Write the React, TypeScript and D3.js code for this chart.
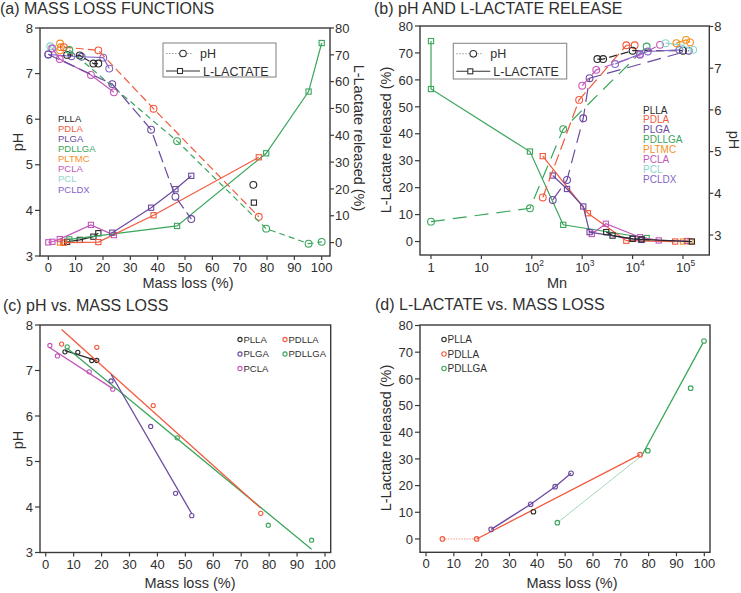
import React from "react";
import * as d3 from "d3";

type P = [number, number];
const FONT = "'Liberation Sans', Arial, Helvetica, sans-serif";
const TXT = "#2f2f2f";
const FRAME = "#3a3a3a";

// ---------- shared ----------
const materials = ["PLLA", "PDLA", "PLGA", "PDLLGA", "PLTMC", "PCLA", "PCL", "PCLDX"];
const colors: Record<string, string> = {
  PLLA: "#2a2a2a",
  PDLA: "#f15a3e",
  PDLLA: "#f15a3e",
  PLGA: "#6b4a9f",
  PDLLGA: "#3aa65b",
  PLTMC: "#f7901e",
  PCLA: "#c357b9",
  PCL: "#8ed6cd",
  PCLDX: "#8466c9",
};
const massTicks = [0, 10, 20, 30, 40, 50, 60, 70, 80, 90, 100];
const phTicks = [3, 4, 5, 6, 7, 8];
const lacTicks = [0, 10, 20, 30, 40, 50, 60, 70, 80];
const mnTicks = [1, 10, 100, 1000, 10000, 100000];

// ---------- (a) mass loss functions: pH (mass loss %, pH) ----------
const aPH_PLLA: P[] = [[6.9, 7.41], [11.5, 7.4], [16.5, 7.22], [18.3, 7.22]];
const aPH_PLLA_extra: P[] = [[75, 4.56]];
const aPH_PDLA: P[] = [[5.7, 7.58], [18.3, 7.51], [38.5, 6.23], [77, 3.86]];
const aPH_PLGA: P[] = [[0, 7.42], [23.4, 6.77], [37.6, 5.77], [46.5, 4.3], [52.3, 3.81]];
const aPH_PDLLGA: P[] = [[7.7, 7.52], [47.1, 5.52], [79.7, 3.6], [95.2, 3.27], [100, 3.31]];
const aPH_PLTMC: P[] = [[4.3, 7.66], [4.6, 7.58], [4.3, 7.51]];
const aPH_PCLA: P[] = [[1.5, 7.55], [4.2, 7.32], [15.6, 6.97], [24.0, 6.59]];
const aPH_PCL: P[] = [[0.7, 7.6], [1.1, 7.55]];
const aPH_PCLDX: P[] = [[0, 7.42], [8.5, 7.38], [12.2, 7.37], [20.1, 7.35], [22.3, 7.11]];

// ---------- (a) L-lactate released (mass loss %, %) ----------
const aLA_PLLA: P[] = [[6.9, 0.3], [11.5, 1.0], [16.5, 2.2], [18.3, 3.5]];
const aLA_PLLA_extra: P[] = [[75.2, 14.9]];
const aLA_PDLA: P[] = [[5.7, 0], [18.3, 0.2], [38.5, 10.2], [77, 31.8]];
const aLA_PLGA: P[] = [[23.4, 3.7], [37.6, 13.0], [46.5, 19.9], [52.3, 24.9]];
const aLA_PDLLGA: P[] = [[7.7, 1.2], [47.1, 6.2], [79.7, 33.3], [95.2, 56.3], [100, 74.4]];
const aLA_PLTMC: P[] = [[4.3, 0], [5.4, 0]];
const aLA_PCLA: P[] = [[0, 0.1], [1.5, 0.3], [4.2, 1.3], [15.6, 6.6], [24.0, 2.8]];

// ---------- (b) vs Mn: pH (Mn, pH) ----------
const bPH_PLLA: P[] = [[2000, 7.22], [2600, 7.22], [10000, 7.42], [100000, 7.42]];
const bPH_PDLA: P[] = [[165, 3.9], [870, 6.24], [7500, 7.55], [11000, 7.55]];
const bPH_PLGA: P[] = [[260, 3.84], [500, 4.32], [1050, 5.8], [1400, 6.76], [130000, 7.42]];
const bPH_PDLLGA: P[] = [[1, 3.32], [92, 3.64], [420, 5.54], [19000, 7.52]];
const bPH_PLTMC: P[] = [[74000, 7.6], [115000, 7.68], [138000, 7.62]];
const bPH_PCLA: P[] = [[1000, 6.58], [1900, 6.96], [14000, 7.32], [35000, 7.56]];
const bPH_PCL: P[] = [[45000, 7.6], [90000, 7.56], [160000, 7.44]];
const bPH_PCLDX: P[] = [[4500, 7.1], [14000, 7.34], [20000, 7.4], [85000, 7.44]];

// ---------- (b) L-lactate (Mn, %) ----------
const bLA_PLLA: P[] = [[3000, 3.5], [4000, 2.2], [10000, 1.0], [15000, 0.8], [150000, 0]];
const bLA_PDLA: P[] = [[165, 31.7], [1300, 10.5], [7500, 0.3], [70000, 0]];
const bLA_PLGA: P[] = [[260, 24.5], [500, 19.5], [1050, 13.0], [1400, 3.5], [10000, 1.0], [15000, 0.6]];
const bLA_PDLLGA: P[] = [[1, 74.4], [1, 56.6], [92, 33.4], [420, 6.2], [19000, 1.3]];
const bLA_PLTMC: P[] = [[100000, 0], [140000, 0]];
const bLA_PCLA: P[] = [[1550, 2.8], [2950, 6.6], [14000, 1.6], [33000, 0.4], [120000, 0.2]];

// ---------- (c) pH vs mass loss ----------
const cPLLA: P[] = [[6.9, 7.41], [11.5, 7.4], [16.5, 7.22], [18.3, 7.22]];
const cPDLLA: P[] = [[5.7, 7.58], [18.3, 7.51], [38.5, 6.23], [77.0, 3.86]];
const cPLGA: P[] = [[23.4, 6.77], [37.6, 5.77], [46.5, 4.3], [52.3, 3.81]];
const cPDLLGA: P[] = [[7.7, 7.52], [47.1, 5.52], [79.7, 3.6], [95.2, 3.27]];
const cPCLA: P[] = [[1.5, 7.55], [4.2, 7.32], [15.6, 6.97], [24.0, 6.59]];
const cLegend = [["PLLA", "PLLA"], ["PDLLA", "PDLA"], ["PLGA", "PLGA"], ["PDLLGA", "PDLLGA"], ["PCLA", "PCLA"]];

// ---------- (d) L-lactate vs mass loss ----------
const dPLLA: P[] = [[38.6, 10.2]];
const dPDLLA: P[] = [[5.9, 0], [18.2, 0], [76.9, 31.6]];
const dPLGA: P[] = [[23.4, 3.6], [37.6, 13.0], [46.4, 19.6], [52.1, 24.6]];
const dPDLLGA: P[] = [[47.2, 6.1], [79.7, 33.1], [95.1, 56.5], [99.9, 74.2]];
const dTrendPDLLGA_low: P[] = [[47.2, 6.1], [77.5, 31.2]];
const dTrendPDLLGA_high: P[] = [[77.5, 31.2], [99.5, 73.4]];
const dLegend = ["PLLA", "PDLLA", "PDLLGA"];

// least-squares fit over the data range
function fit(pts: P[]): P[] {
  const mx = d3.mean(pts, (d) => d[0])!;
  const my = d3.mean(pts, (d) => d[1])!;
  const sxy = d3.sum(pts, (d) => (d[0] - mx) * (d[1] - my));
  const sxx = d3.sum(pts, (d) => (d[0] - mx) ** 2);
  const b = sxy / sxx;
  const [x0, x1] = d3.extent(pts, (d) => d[0]) as [number, number];
  return [[x0, my + b * (x0 - mx)], [x1, my + b * (x1 - mx)]];
}

type Scale = (v: number) => number;

function Series(props: {
  pts: P[]; xs: Scale; ys: Scale; color: string; dash?: string; marker?: "circle" | "square" | "none";
  r?: number; width?: number; line?: boolean; opacity?: number;
}) {
  const { pts, xs, ys, color, dash, marker = "circle", r = 3.3, width = 1.2, line = true, opacity = 1 } = props;
  const gen = d3.line<P>().x((d) => xs(d[0])).y((d) => ys(d[1]));
  return (
    <g>
      {line && pts.length > 1 && (
        <path d={gen(pts) || ""} fill="none" stroke={color} strokeWidth={width}
          strokeDasharray={dash && dash !== "none" ? dash : undefined} opacity={opacity} />
      )}
      {marker === "circle" && pts.map((d, i) => (
        <circle key={i} cx={xs(d[0])} cy={ys(d[1])} r={r} fill="none" stroke={color} strokeWidth={1.1} />
      ))}
      {marker === "square" && pts.map((d, i) => (
        <rect key={i} x={xs(d[0]) - r} y={ys(d[1]) - r} width={2 * r} height={2 * r}
          fill="none" stroke={color} strokeWidth={1.1} />
      ))}
    </g>
  );
}

function Frame({ x0, x1, y0, y1 }: { x0: number; x1: number; y0: number; y1: number }) {
  return <rect x={x0} y={y0} width={x1 - x0} height={y1 - y0} fill="none" stroke={FRAME} strokeWidth={1.4} />;
}

const TICK_FS = 13;

function LeftTicks({ ticks, ys, x, fs = TICK_FS }: { ticks: number[]; ys: Scale; x: number; fs?: number }) {
  return (
    <g>
      {ticks.map((t) => (
        <g key={t}>
          <line x1={x - 5} x2={x} y1={ys(t)} y2={ys(t)} stroke={FRAME} strokeWidth={1.2} />
          <text x={x - 7} y={ys(t)} dy="0.36em" textAnchor="end" fontSize={fs} fill={TXT} fontFamily={FONT}>{t}</text>
        </g>
      ))}
    </g>
  );
}

function RightTicks({ ticks, ys, x, fs = TICK_FS }: { ticks: number[]; ys: Scale; x: number; fs?: number }) {
  return (
    <g>
      {ticks.map((t) => (
        <g key={t}>
          <line x1={x} x2={x + 4} y1={ys(t)} y2={ys(t)} stroke={FRAME} strokeWidth={1.2} />
          <text x={x + 5} y={ys(t)} dy="0.36em" textAnchor="start" fontSize={fs} fill={TXT} fontFamily={FONT}>{t}</text>
        </g>
      ))}
    </g>
  );
}

function BottomTicks({ ticks, xs, y, fs = TICK_FS }: { ticks: number[]; xs: Scale; y: number; fs?: number }) {
  return (
    <g>
      {ticks.map((t) => (
        <g key={t}>
          <line x1={xs(t)} x2={xs(t)} y1={y} y2={y + 4} stroke={FRAME} strokeWidth={1.2} />
          <text x={xs(t)} y={y + 16} textAnchor="middle" fontSize={fs} fill={TXT} fontFamily={FONT}>{t}</text>
        </g>
      ))}
    </g>
  );
}

function Txt(props: { x: number; y: number; s: string; fs?: number; anchor?: string; rot?: number; fill?: string }) {
  const { x, y, s, fs = 14.5, anchor = "middle", rot = 0, fill = TXT } = props;
  return (
    <text x={x} y={y} fontSize={fs} fill={fill} fontFamily={FONT} textAnchor={anchor as any}
      transform={rot ? `rotate(${rot},${x},${y})` : undefined} dy={rot ? "0.35em" : undefined}>{s}</text>
  );
}

function LegendBox({ x, y, w, h }: { x: number; y: number; w: number; h: number }) {
  return (
    <g>
      <rect x={x} y={y} width={w} height={h} fill="white" stroke="#8a8a8a" strokeWidth={1.1} />
      <line x1={x + 3} x2={x + 30} y1={y + 10.5} y2={y + 10.5} stroke="#9a9a9a" strokeWidth={1.1} strokeDasharray="1.5,1.5" />
      <circle cx={x + 20} cy={y + 10.5} r={3.3} fill="white" stroke="#333" strokeWidth={1.1} />
      <Txt x={x + 37} y={y + 15} s="pH" fs={12.5} anchor="start" />
      <line x1={x + 3} x2={x + 37} y1={y + 28} y2={y + 28} stroke="#333" strokeWidth={1.1} />
      <rect x={x + 14.5} y={y + 25.5} width={5} height={5} fill="white" stroke="#333" strokeWidth={1.1} />
      <Txt x={x + 40} y={y + 32.5} s="L-LACTATE" fs={12.5} anchor="start" />
    </g>
  );
}

export default function App() {
  // ----- panel a -----
  const aX = d3.scaleLinear().domain([0, 100]).range([48.3, 321.7]);
  const aYp = d3.scaleLinear().domain([3, 8]).range([256, 28]);
  const aYl = d3.scaleLinear().domain([-5, 80]).range([256, 28]);
  const aPHSeries = [
    { c: "PCL", pts: aPH_PCL, dash: "4,3" },
    { c: "PLTMC", pts: aPH_PLTMC, dash: "4,3" },
    { c: "PCLDX", pts: aPH_PCLDX, dash: "none" },
    { c: "PLLA", pts: aPH_PLLA, dash: "6,3" },
    { c: "PDLA", pts: aPH_PDLA, dash: "8,4" },
    { c: "PDLLGA", pts: aPH_PDLLGA, dash: "6,4" },
    { c: "PCLA", pts: aPH_PCLA, dash: "none" },
    { c: "PLGA", pts: aPH_PLGA, dash: "12,5" },
  ];
  const aLASeries = [
    { c: "PLTMC", pts: aLA_PLTMC },
    { c: "PCLA", pts: aLA_PCLA },
    { c: "PLLA", pts: aLA_PLLA },
    { c: "PDLLGA", pts: aLA_PDLLGA },
    { c: "PDLA", pts: aLA_PDLA },
    { c: "PLGA", pts: aLA_PLGA },
  ];

  // ----- panel b -----
  const bX = d3.scaleLog().domain([1, 100000]).range([431, 683]);
  const bYl = d3.scaleLinear().domain([-5, 80]).range([255, 26]);
  const bYp = d3.scaleLinear().domain([3, 8]).range([235, 26.5]);
  const bPHSeries = [
    { c: "PDLLGA", pts: bPH_PDLLGA, dash: "14,8" },
    { c: "PDLA", pts: bPH_PDLA, dash: "12,5" },
    { c: "PLGA", pts: bPH_PLGA, dash: "14,7" },
    { c: "PLLA", pts: bPH_PLLA, dash: "8,4" },
    { c: "PCLA", pts: bPH_PCLA, dash: "10,5" },
    { c: "PCLDX", pts: bPH_PCLDX, dash: "none" },
    { c: "PCL", pts: bPH_PCL, dash: "none" },
    { c: "PLTMC", pts: bPH_PLTMC, dash: "none" },
  ];
  const bLASeries = [
    { c: "PDLLGA", pts: bLA_PDLLGA },
    { c: "PLTMC", pts: bLA_PLTMC },
    { c: "PDLA", pts: bLA_PDLA },
    { c: "PCLA", pts: bLA_PCLA },
    { c: "PLGA", pts: bLA_PLGA },
    { c: "PLLA", pts: bLA_PLLA },
  ];

  // ----- panel c -----
  const cX = d3.scaleLinear().domain([0, 100]).range([45.7, 325]);
  const cY = d3.scaleLinear().domain([3, 8]).range([552.5, 325]);
  const cSeries = [
    { c: "PCLA", pts: cPCLA },
    { c: "PLLA", pts: cPLLA },
    { c: "PDLLGA", pts: cPDLLGA },
    { c: "PDLA", pts: cPDLLA },
    { c: "PLGA", pts: cPLGA },
  ];

  // ----- panel d -----
  const dX = d3.scaleLinear().domain([0, 100]).range([426, 704.3]);
  const dY = d3.scaleLinear().domain([-5, 80]).range([552.3, 325.5]);

  return (
    <svg width={741} height={593} style={{ position: "absolute", left: 0, top: 0, background: "white" }}
      xmlns="http://www.w3.org/2000/svg">
      <rect x={0} y={0} width={741} height={593} fill="white" />

      {/* ================= (a) ================= */}
      <Txt x={0} y={13.5} s="(a) MASS LOSS FUNCTIONS" fs={16} anchor="start" />
      <Frame x0={40} x1={330} y0={28} y1={256} />
      <LeftTicks ticks={phTicks} ys={aYp} x={40} />
      <RightTicks ticks={lacTicks} ys={aYl} x={330} />
      <BottomTicks ticks={massTicks} xs={aX} y={256} />
      <Txt x={188} y={287.5} s="Mass loss (%)" />
      <Txt x={18} y={142} s="pH" rot={-90} />
      <Txt x={359} y={138} s="L-Lactate released (%)" rot={90} />
      {aLASeries.map((s) => (
        <Series key={"al" + s.c} pts={s.pts} xs={aX} ys={aYl} color={colors[s.c]} marker="square" r={2.6} />
      ))}
      <Series pts={aLA_PLLA_extra} xs={aX} ys={aYl} color={colors.PLLA} marker="square" r={2.6} line={false} />
      {aPHSeries.map((s) => (
        <Series key={"ap" + s.c} pts={s.pts} xs={aX} ys={aYp} color={colors[s.c]} dash={s.dash} marker="circle" r={3.4} />
      ))}
      <Series pts={aPH_PLLA_extra} xs={aX} ys={aYp} color={colors.PLLA} marker="circle" r={3.4} line={false} />
      {materials.map((m, i) => (
        <Txt key={"am" + m} x={58} y={121.5 + i * 10.15} s={m} fs={9.5} anchor="start" fill={colors[m]} />
      ))}
      <LegendBox x={163} y={43} w={113} h={34} />

      {/* ================= (b) ================= */}
      <Txt x={374} y={13.5} s="(b) pH AND L-LACTATE RELEASE" fs={16} anchor="start" />
      <Frame x0={420} x1={709.3} y0={26} y1={255} />
      <LeftTicks ticks={lacTicks} ys={bYl} x={420} />
      <RightTicks ticks={phTicks} ys={bYp} x={709.3} />
      {mnTicks.map((t, i) => (
        <g key={"bx" + t}>
          <line x1={bX(t)} x2={bX(t)} y1={255} y2={259} stroke={FRAME} strokeWidth={1.2} />
          {i < 2 ? (
            <text x={bX(t)} y={271.5} textAnchor="middle" fontSize={TICK_FS} fill={TXT} fontFamily={FONT}>{t}</text>
          ) : (
            <text x={bX(t) - 7} y={271.5} textAnchor="start" fontSize={TICK_FS} fill={TXT} fontFamily={FONT}>
              10<tspan dy={-5.5} fontSize={8.5}>{Math.round(Math.log10(t))}</tspan>
            </text>
          )}
        </g>
      ))}
      <Txt x={557} y={287.5} s="Mn" />
      <Txt x={386} y={140} s="L-Lactate released (%)" rot={-90} />
      <Txt x={734} y={140} s="pH" rot={90} />
      {bLASeries.map((s) => (
        <Series key={"bl" + s.c} pts={s.pts} xs={bX} ys={bYl} color={colors[s.c]} marker="square" r={2.6} />
      ))}
      {bPHSeries.map((s) => (
        <Series key={"bp" + s.c} pts={s.pts} xs={bX} ys={bYp} color={colors[s.c]} dash={s.dash} marker="circle" r={3.4} />
      ))}
      {materials.map((m, i) => (
        <Txt key={"bm" + m} x={643} y={113.5 + i * 9.9} s={m} fs={10} anchor="start" fill={colors[m]} />
      ))}
      <LegendBox x={453.3} y={43.3} w={113.4} h={35.7} />

      {/* ================= (c) ================= */}
      <Txt x={3} y={310.5} s="(c) pH vs. MASS LOSS" fs={16} anchor="start" />
      <Frame x0={40} x1={330.7} y0={325} y1={552.5} />
      <LeftTicks ticks={phTicks} ys={cY} x={40} />
      <BottomTicks ticks={massTicks} xs={cX} y={552.5} />
      <Txt x={190} y={588} s="Mass loss (%)" />
      <Txt x={18} y={440} s="pH" rot={-90} />
      {cSeries.map((s) => (
        <g key={"c" + s.c}>
          <Series pts={fit(s.pts)} xs={cX} ys={cY} color={colors[s.c]} marker="none" width={1.3} />
          <Series pts={s.pts} xs={cX} ys={cY} color={colors[s.c]} marker="circle" r={2.1} line={false} />
        </g>
      ))}
      {cLegend.map(([label, key], i) => {
        const col = i % 2;
        const row = Math.floor(i / 2);
        const x = 240 + col * 45;
        const y = 339.5 + row * 14.5;
        return (
          <g key={"cl" + label}>
            <circle cx={x} cy={y} r={2.1} fill="none" stroke={colors[key]} strokeWidth={1.1} />
            <Txt x={x + 3.5} y={y + 3.4} s={label} fs={9.5} anchor="start" />
          </g>
        );
      })}

      {/* ================= (d) ================= */}
      <Txt x={375} y={310} s="(d) L-LACTATE vs. MASS LOSS" fs={16} anchor="start" />
      <Frame x0={420} x1={710} y0={325} y1={552.3} />
      <LeftTicks ticks={lacTicks} ys={dY} x={420} />
      <BottomTicks ticks={massTicks} xs={dX} y={552.3} />
      <Txt x={572} y={588} s="Mass loss (%)" />
      <Txt x={386} y={438} s="L-Lactate released (%)" rot={-90} />
      <Series pts={dPDLLA.slice(0, 2)} xs={dX} ys={dY} color={colors.PDLLA} marker="none" dash="1.5,1.2" width={1} opacity={0.6} />
      <Series pts={dPDLLA.slice(1)} xs={dX} ys={dY} color={colors.PDLLA} marker="none" width={1.3} />
      <Series pts={dTrendPDLLGA_low} xs={dX} ys={dY} color={colors.PDLLGA} marker="none" width={1} opacity={0.45} />
      <Series pts={dTrendPDLLGA_high} xs={dX} ys={dY} color={colors.PDLLGA} marker="none" width={1.3} />
      <Series pts={dPLGA} xs={dX} ys={dY} color={colors.PLGA} marker="circle" r={2.3} width={1.3} />
      <Series pts={dPDLLA} xs={dX} ys={dY} color={colors.PDLLA} marker="circle" r={2.3} line={false} />
      <Series pts={dPDLLGA} xs={dX} ys={dY} color={colors.PDLLGA} marker="circle" r={2.3} line={false} />
      <Series pts={dPLLA} xs={dX} ys={dY} color={colors.PLLA} marker="circle" r={2.3} line={false} />
      {dLegend.map((m, i) => (
        <g key={"dl" + m}>
          <circle cx={444} cy={339.5 + i * 14.5} r={2.2} fill="none" stroke={colors[m]} strokeWidth={1.1} />
          <Txt x={447.5} y={343 + i * 14.5} s={m} fs={10} anchor="start" />
        </g>
      ))}
    </svg>
  );
}
